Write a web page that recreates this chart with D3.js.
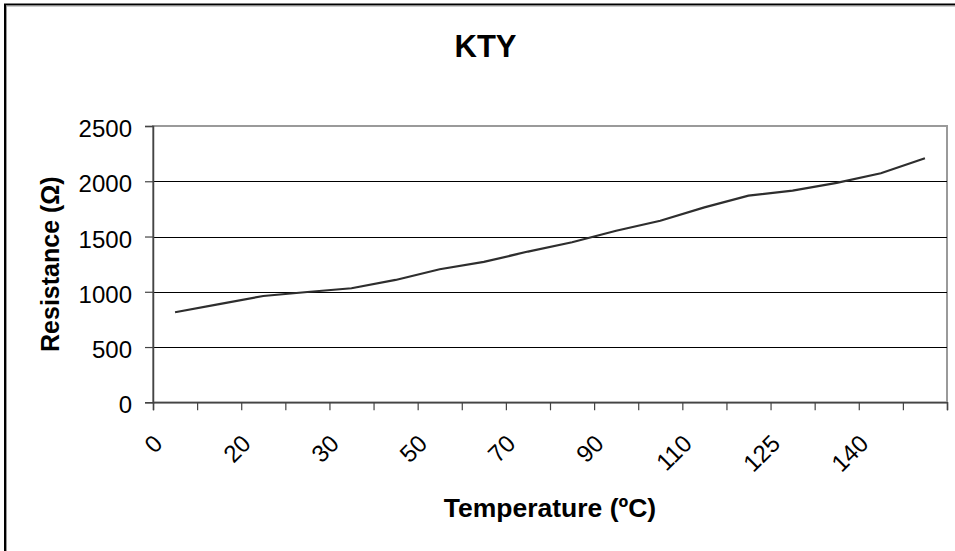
<!DOCTYPE html>
<html>
<head>
<meta charset="utf-8">
<script src="https://cdn.jsdelivr.net/npm/d3@7"></script>
<style>
  html, body { margin: 0; padding: 0; background: #fff; }
  svg { display: block; font-family: "Liberation Sans", Arial, sans-serif; }
</style>
</head>
<body>
<svg id="chart" width="955" height="551"></svg>
<script>
// ---- data ----
const categories = ["0", "10", "20", "25", "30", "40", "50", "60", "70", "80", "90", "100", "110", "120", "125", "130", "140", "150"];
const resistance = [815, 888, 962, 998, 1032, 1107, 1204, 1270, 1364, 1448, 1552, 1643, 1764, 1870, 1915, 1985, 2072, 2208];
const tickLabels = ["0", "20", "30", "50", "70", "90", "110", "125", "140"];
const yTicks = [0, 500, 1000, 1500, 2000, 2500];
const chartTitle = "KTY";
const xTitle = "Temperature (ºC)";
const yTitle = "Resistance (Ω)";

// ---- layout ----
const W = 955, H = 551;
const plot = { left: 153, right: 947, top: 126, bottom: 402.3 };

const svg = d3.select("#chart");

// outer chart border (extends past the canvas on right/bottom)
svg.append("rect")
  .attr("x", 5).attr("y", 4.5).attr("width", W + 20).attr("height", H + 20)
  .attr("fill", "#fff").attr("stroke", "#000").attr("stroke-width", 2);
svg.append("rect")
  .attr("x", 6.5).attr("y", 6).attr("width", W + 20).attr("height", H + 20)
  .attr("fill", "none").attr("stroke", "#999").attr("stroke-width", 1);

const x = d3.scaleBand().domain(categories).range([plot.left, plot.right]).padding(0);
const xEdge = d3.scaleLinear().domain([0, categories.length]).range([plot.left, plot.right]);
const y = d3.scaleLinear().domain([0, 2500]).range([plot.bottom, plot.top]);

// plot area frame (gray top / right)
svg.append("rect")
  .attr("x", plot.left).attr("y", plot.top)
  .attr("width", plot.right - plot.left).attr("height", plot.bottom - plot.top)
  .attr("fill", "#fff").attr("stroke", "#9a9a9a").attr("stroke-width", 2);

// gridlines
svg.append("g")
  .selectAll("line")
  .data(yTicks.filter(d => d > 0 && d < 2500))
  .join("line")
  .attr("x1", plot.left).attr("x2", plot.right)
  .attr("y1", d => Math.round(y(d)) + 0.5).attr("y2", d => Math.round(y(d)) + 0.5)
  .attr("stroke", "#000").attr("stroke-width", 1);

// y axis
const yAxis = svg.append("g")
  .attr("transform", `translate(${plot.left},0)`)
  .call(d3.axisLeft(y).tickValues(yTicks).tickSize(8).tickPadding(13).tickFormat(d3.format("d")));
yAxis.select(".domain").attr("stroke", "#444").attr("stroke-width", 1.5);
yAxis.selectAll(".tick line").attr("stroke", "#444").attr("stroke-width", 1.2);
yAxis.selectAll(".tick text")
  .attr("font-size", 24).attr("fill", "#000")
  .attr("font-family", "Liberation Sans, Arial, sans-serif")
  .attr("dy", null).attr("y", 0).attr("dominant-baseline", "auto")
  .attr("transform", "translate(0,10.5)");

// x axis tick marks at category boundaries
const xAxis = svg.append("g")
  .attr("transform", `translate(0,${plot.bottom})`)
  .call(d3.axisBottom(xEdge).tickValues(d3.range(categories.length + 1)).tickSize(8).tickFormat(""));
xAxis.select(".domain").attr("stroke", "#444").attr("stroke-width", 1.5);
xAxis.selectAll(".tick line").attr("stroke", "#444").attr("stroke-width", 1.2);

// x tick labels (every other category), rotated
const labelCats = categories.filter((c, i) => i % 2 === 0);
svg.append("g")
  .selectAll("text")
  .data(labelCats)
  .join("text")
  .attr("transform", (d, i) => `translate(${x(d) + x.bandwidth() / 2 - 11},${445}) rotate(-45)`)
  .attr("text-anchor", "end")
  .attr("font-size", 24)
  .attr("fill", "#000")
  .text((d, i) => tickLabels[i]);

// series line
const line = d3.line()
  .x((d, i) => x(categories[i]) + x.bandwidth() / 2)
  .y(d => y(d));
svg.append("path")
  .datum(resistance)
  .attr("d", line)
  .attr("fill", "none")
  .attr("stroke", "#2e2e2e")
  .attr("stroke-width", 2.2);

// titles
svg.append("text")
  .attr("x", 485.5).attr("y", 57)
  .attr("text-anchor", "middle")
  .attr("font-size", 31).attr("font-weight", "bold")
  .text(chartTitle);

svg.append("text")
  .attr("x", 550).attr("y", 517)
  .attr("text-anchor", "middle")
  .attr("font-size", 26.5).attr("font-weight", "bold")
  .text(xTitle);

svg.append("text")
  .attr("transform", `translate(59,${(plot.top + plot.bottom) / 2}) rotate(-90)`)
  .attr("text-anchor", "middle")
  .attr("font-size", 25).attr("font-weight", "bold")
  .text(yTitle);
</script>
</body>
</html>
